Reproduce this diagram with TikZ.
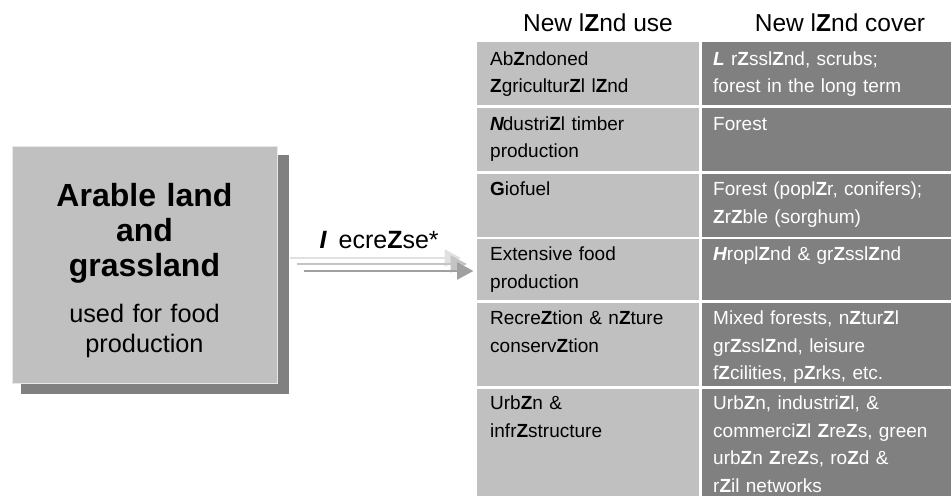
\documentclass[tikz,border=0pt]{standalone}
\usepackage{fontspec}
\setmainfont{Liberation Sans}
\usetikzlibrary{arrows.meta}
\definecolor{lightcell}{HTML}{C0C0C0}
\definecolor{darkcell}{HTML}{808080}
\definecolor{boxedge}{HTML}{E8E8E8}
\definecolor{arrA}{HTML}{E0E0E0}
\definecolor{arrB}{HTML}{C4C4C4}
\definecolor{arrC}{HTML}{A0A0A0}
\newcommand\Za{{\bfseries Z}}
\newcommand\BIt[1]{{\bfseries\itshape #1}}
\begin{document}
\begin{tikzpicture}[x=1pt,y=-1pt,
  lefttext/.style={anchor=base west, inner sep=0pt, text width=205pt, align=left,
    font=\fontsize{19}{27.5}\selectfont, text=black},
  righttext/.style={anchor=base west, inner sep=0pt, text width=236pt, align=left,
    font=\fontsize{19}{27.5}\selectfont, text=white},
  headtext/.style={anchor=base, inner sep=0pt, font=\fontsize{24.5}{28}\selectfont},
  flowarrow/.style={line width=2.6pt, -{Triangle[length=16.5pt,width=17pt]}}
]
\useasboundingbox (0,0) rectangle (951,496);

% headers
\node[headtext] (h1) at (598,31.5) {New l\Za nd use};
\node[headtext] (h2) at (840,31.5) {New l\Za nd cover};

% table cells
\foreach \t/\b in {42/105, 107.5/171, 173.5/236.5, 239/300, 302.5/386, 388.5/496}{
  \fill[lightcell] (476.5,\t) rectangle (699,\b);
  \fill[darkcell] (701.5,\t) rectangle (951,\b);
}

\node[lefttext] (l1) at (490,65) {Ab\Za ndoned\\\Za gricultur\Za l l\Za nd};
\node[righttext] (r1) at (713,65) {\BIt{L} r\Za ssl\Za nd, scrubs;\\forest in the long term};
\node[lefttext] (l2) at (490,130) {\BIt{N}\kern-1pt dustri\Za l timber\\production};
\node[righttext] (r2) at (713,130) {Forest};
\node[lefttext] (l3) at (490,195.5) {{\bfseries G}iofuel};
\node[righttext] (r3) at (713,195.5) {Forest (popl\Za r, conifers);\\\Za r\Za ble (sorghum)};
\node[lefttext] (l4) at (490,260.5) {Extensive food\\production};
\node[righttext] (r4) at (713,260.5) {\BIt{H}ropl\Za nd \& gr\Za ssl\Za nd};
\node[lefttext] (l5) at (490,324.5) {Recre\Za tion \& n\Za ture\\conserv\Za tion};
\node[righttext] (r5) at (713,324.5) {Mixed forests, n\Za tur\Za l\\gr\Za ssl\Za nd, leisure\\f\Za cilities, p\Za rks, etc.};
\node[lefttext] (l6) at (490,409.5) {Urb\Za n \&\\infr\Za structure};
\node[righttext] (r6) at (713,409.5) {Urb\Za n, industri\Za l, \&\\commerci\Za l \Za re\Za s, green\\urb\Za n \Za re\Za s, ro\Za d \&\\r\Za il networks};

% source box with shadow
\fill[darkcell] (20.5,155) rectangle (289,394);
\node[draw=boxedge, line width=1pt, fill=lightcell, minimum width=265pt, minimum height=237pt,
  inner sep=0pt] (src) at (144.5,264.5) {};
\node[anchor=base, inner sep=0pt, text width=260pt, align=center,
  font=\fontsize{32}{35.3}\selectfont\bfseries] (srctitle) at (144.5,206) {Arable land\\and\\grassland};
\node[anchor=base, inner sep=0pt, text width=260pt, align=center,
  font=\fontsize{25.3}{30}\selectfont] (srcsub) at (144.5,322.7) {used for food\\production};

% arrow label
\node[anchor=base west, inner sep=0pt, font=\fontsize{25}{28}\selectfont] (lbl) at (319.5,248) {\BIt{I}\hspace{12pt}ecre\Za se*};

% arrows
\coordinate (a1s) at (290,258);
\coordinate (a1e) at (461,258);
\coordinate (a2s) at (297,264);
\coordinate (a2e) at (467,264);
\coordinate (a3s) at (303.5,271);
\coordinate (a3e) at (473.5,271);
\draw[flowarrow, arrA] (a1s) -- (a1e);
\draw[flowarrow, arrB] (a2s) -- (a2e);
\draw[flowarrow, arrC] (a3s) -- (a3e);
\end{tikzpicture}
\end{document}
